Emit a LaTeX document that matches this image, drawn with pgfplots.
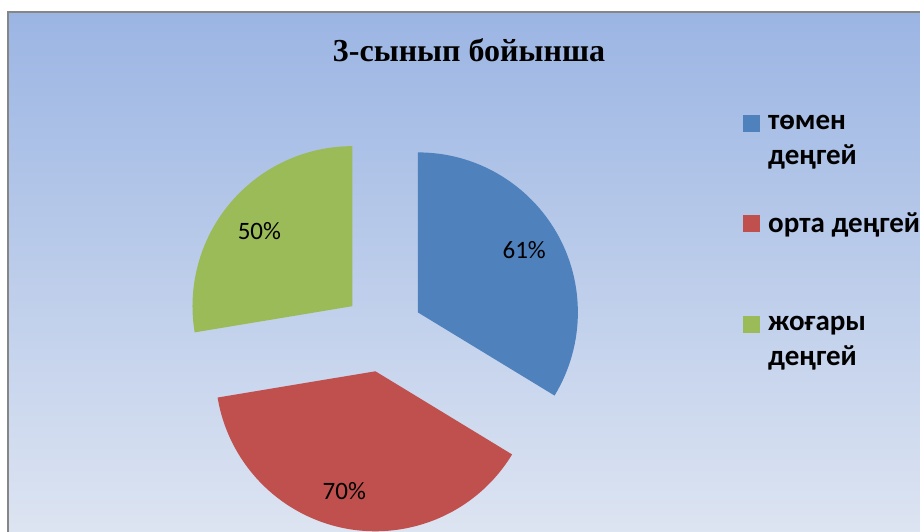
\documentclass[border=0pt]{standalone}
\usepackage{pgfplots}
\pgfplotsset{compat=1.18}
\usepackage{pgfplotstable}
\usepackage{fontspec}
\setmainfont{Carlito}
\newfontfamily\titlefont{Liberation Serif}
\definecolor{pieblue}{HTML}{4F81BD}
\definecolor{piered}{HTML}{C0504D}
\definecolor{piegreen}{HTML}{9BBB59}
\definecolor{bgtop}{HTML}{9BB5E3}
\definecolor{bgbot}{HTML}{DEE5F2}
\definecolor{framegray}{HTML}{868686}
\pgfplotstableread{
value
61
70
50
}\piedata
\pgfplotsset{sqlegend/.style={legend image code/.code={\fill[##1,draw=none] (0pt,9pt) rectangle (17pt,26pt);}}}
\begin{document}
\begin{tikzpicture}
\pgfplotstablegetelem{0}{value}\of\piedata \let\vA\pgfplotsretval
\pgfplotstablegetelem{1}{value}\of\piedata \let\vB\pgfplotsretval
\pgfplotstablegetelem{2}{value}\of\piedata \let\vC\pgfplotsretval
\pgfmathsetmacro\tot{\vA+\vB+\vC}
\pgfmathsetmacro\aA{90}
\pgfmathsetmacro\aB{90-360*(\vA/\tot)}
\pgfmathsetmacro\aC{\aB-360*(\vB/\tot)}
\pgfmathsetmacro\aD{\aC-360*(\vC/\tot)}
\pgfmathsetmacro\mA{(\aA+\aB)/2}
\pgfmathsetmacro\mB{(\aB+\aC)/2}
\pgfmathsetmacro\mC{(\aC+\aD)/2}
\def\cx{383}\def\cy{200}\def\ex{40}\def\rr{160}\def\lr{122}
\begin{axis}[x=1pt,y=1pt,xmin=0,xmax=920,ymin=0,ymax=532,hide axis,clip=false,
  anchor=south west, at={(0,0)},
  legend style={at={(axis cs:743,419)}, anchor=north west, draw=none, fill=none,
    font=\fontsize{29}{35}\selectfont\bfseries, cells={align=left}, row sep=43pt, column sep=6pt, inner sep=0pt},
  legend cell align=left]
\shade[top color=bgtop,bottom color=bgbot] (axis cs:8,-10) rectangle (axis cs:930,520);
\draw[framegray,line width=2pt] (axis cs:8,-10) -- (axis cs:8,520) -- (axis cs:930,520);
\fill[pieblue] (axis cs:{\cx+\ex*cos(\mA)},{\cy+\ex*sin(\mA)}) -- ++(\aA:\rr pt) arc[start angle=\aA,end angle=\aB,radius=\rr pt] -- cycle;
\fill[piered] (axis cs:{\cx+\ex*cos(\mB)},{\cy+\ex*sin(\mB)}) -- ++(\aB:\rr pt) arc[start angle=\aB,end angle=\aC,radius=\rr pt] -- cycle;
\fill[piegreen] (axis cs:{\cx+\ex*cos(\mC)},{\cy+\ex*sin(\mC)}) -- ++(\aC:\rr pt) arc[start angle=\aC,end angle=\aD,radius=\rr pt] -- cycle;
\node[font=\fontsize{25}{30}\selectfont] at (axis cs:{\cx+(\ex+\lr)*cos(\mA)},{\cy+(\ex+\lr)*sin(\mA)+3}) {\vA\%};
\node[font=\fontsize{25}{30}\selectfont] at (axis cs:{\cx+(\ex+\lr)*cos(\mB)-8},{\cy+(\ex+\lr)*sin(\mB)}) {\vB\%};
\node[font=\fontsize{25}{30}\selectfont] at (axis cs:{\cx+(\ex+\lr)*cos(\mC)},{\cy+(\ex+\lr)*sin(\mC)-4}) {\vC\%};
\node[font=\titlefont\bfseries\fontsize{32}{38}\selectfont, anchor=base] at (axis cs:469,470) {3-сынып бойынша};
\addlegendimage{sqlegend, fill=pieblue}
\addlegendentry{төмен\\деңгей}
\addlegendimage{sqlegend, fill=piered}
\addlegendentry{орта деңгей\\\mbox{}}
\addlegendimage{sqlegend, fill=piegreen}
\addlegendentry{жоғары\\деңгей}
\end{axis}
\pgfresetboundingbox
\useasboundingbox (0,0) rectangle (920pt,532pt);
\end{tikzpicture}
\end{document}
